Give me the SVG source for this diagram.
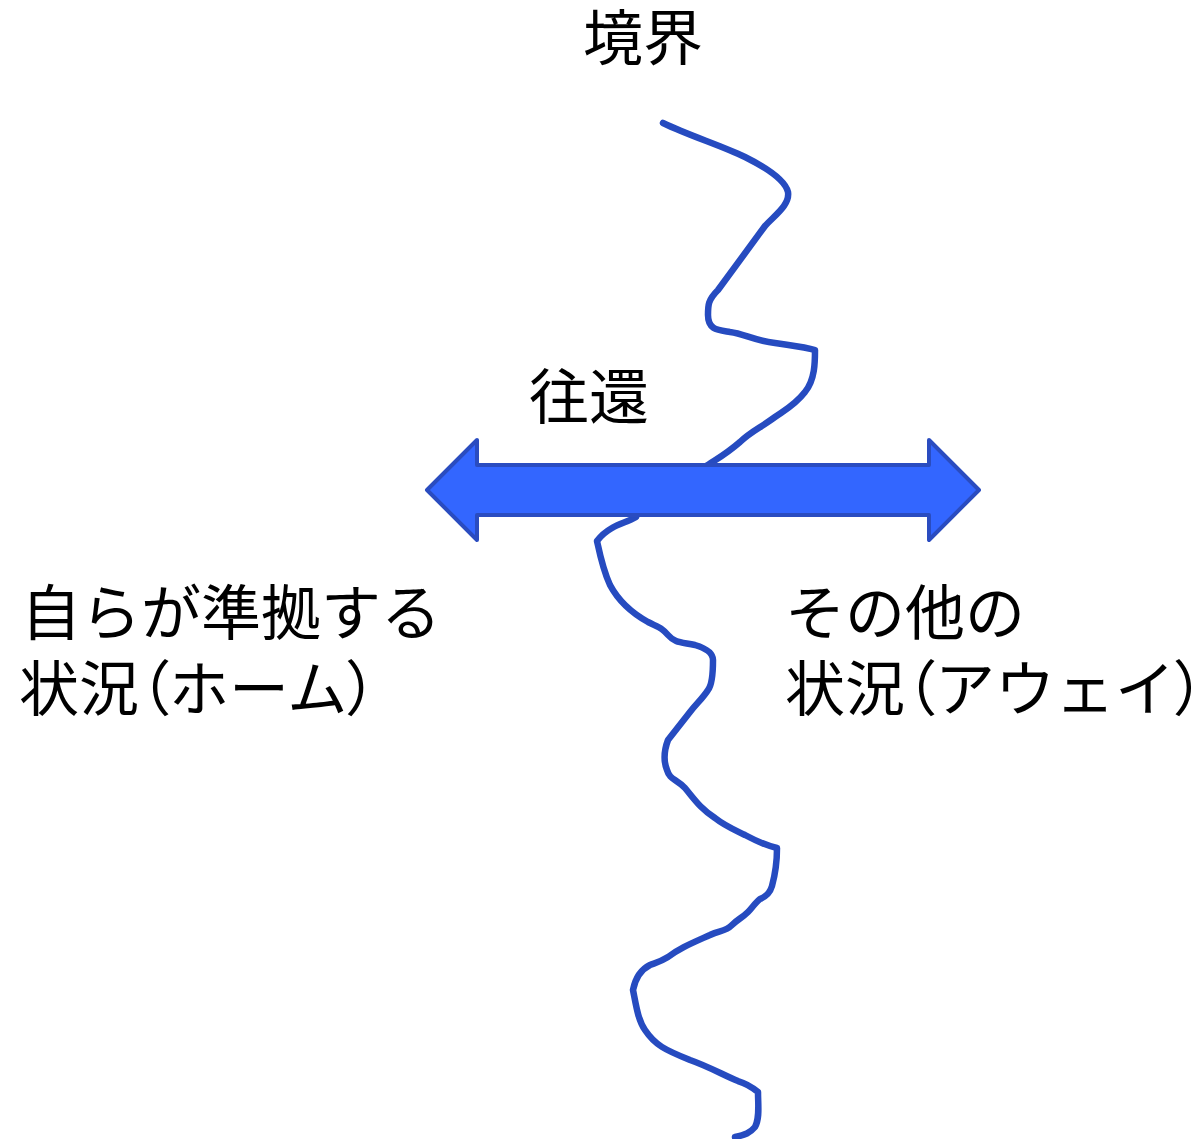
<svg xmlns="http://www.w3.org/2000/svg" width="1191" height="1139" viewBox="0 0 1191 1139">
<style>
.t{font-family:"Noto Sans CJK JP","Noto Sans CJK SC",sans-serif;font-size:60px;fill:#000}
.p{font-feature-settings:"palt" 1}
.wave{fill:none;stroke:#264BC0;stroke-width:6.5;stroke-linecap:round;stroke-linejoin:round}
.arrow{fill:#3366FF;stroke:#2A4CC0;stroke-width:4;stroke-linejoin:round}
</style>
<rect width="1191" height="1139" fill="#fff"/>
<g id="connectors">
<path class="wave" d="M663,123 C690,136 720,145 745,157 C765,167 785,180 788,192 C790,205 775,215 765,226 L718,290 C708,300 708,305 708,315 C708,330 718,330 730,332 C745,334 752,340 775,343 C795,346 805,347 815,350 C815,362 815,380 805,392 C795,405 785,410 775,417 C760,428 750,432 740,442 C725,455 715,460 705,467"/>
<path class="wave" d="M636,517 C628,522 620,523 612,528 C605,532 600,537 597,541 C600,555 603,570 610,585 C618,600 630,612 648,622 C660,628 662,628 668,635 C675,643 680,642 695,645 C705,648 713,652 713,660 C713,672 712,685 708,690 C703,698 697,703 690,712 L668,740 C665,748 663,760 667,770 C670,780 675,778 685,788 C695,800 700,808 715,818 C725,826 735,830 745,835 C760,843 768,846 777,848 C777,860 775,875 772,886 C770,893 765,897 760,899 C755,903 752,908 748,912 C742,918 738,919 732,925 C725,932 720,930 710,935 C690,944 680,948 668,957 C660,962 655,963 650,965 C640,970 635,980 633,990 C636,1005 638,1020 645,1030 C655,1045 665,1050 690,1060 C710,1067 725,1076 738,1081 C745,1083 752,1087 758,1092 C758,1105 760,1118 755,1127 C750,1133 745,1135 735,1137"/>
</g>
<g id="arrow">
<path class="arrow" d="M427,490 L477,440 L477,465 L929,465 L929,440 L979,490 L929,540 L929,515 L477,515 L477,540 Z"/>
</g>
<g id="label-boundary"><text class="t" x="643" y="60" text-anchor="middle">境界</text></g>
<g id="label-oukan"><text class="t" x="589" y="419" text-anchor="middle">往還</text></g>
<g id="label-home">
<text class="t" x="21" y="635">自らが準拠する</text>
<text class="t" x="19" y="711">状況<tspan class="p">（</tspan>ホーム<tspan class="p">）</tspan></text>
</g>
<g id="label-away">
<text class="t" x="785" y="635">その他の</text>
<text class="t" x="785" y="711">状況<tspan class="p">（</tspan>アウェイ<tspan class="p">）</tspan></text>
</g>
</svg>
